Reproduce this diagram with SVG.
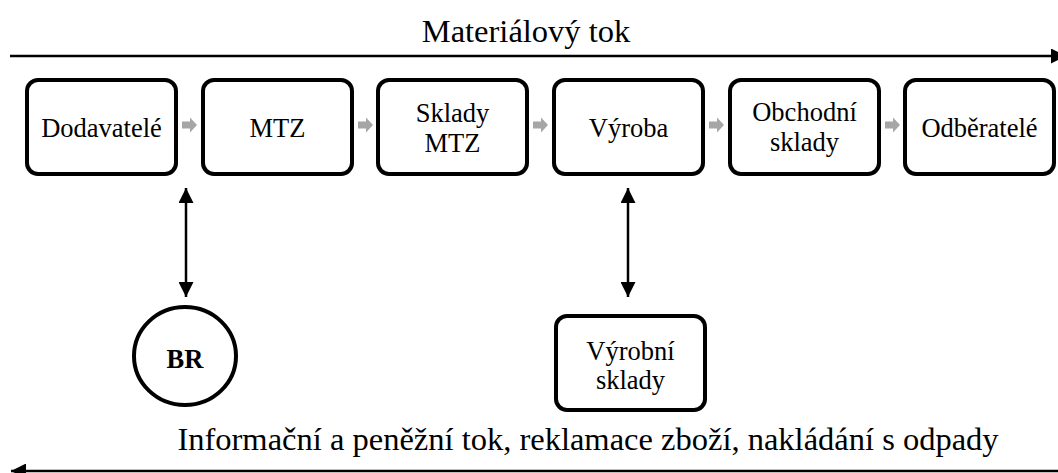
<svg xmlns="http://www.w3.org/2000/svg" width="1058" height="473" viewBox="0 0 1058 473">
  <style>
    .box { fill: #fff; stroke: #000; stroke-width: 4; }
    .lbl { font-family: 'Liberation Serif', 'Tinos', 'DejaVu Serif', serif; font-size: 26.5px; fill: #000; text-anchor: middle; }
    .flow { font-family: 'Liberation Serif', 'Tinos', 'DejaVu Serif', serif; font-size: 32.5px; fill: #000; text-anchor: middle; }
    .line { stroke: #000; stroke-width: 2.5; fill: none; }
    .step { fill: #a6a6a6; }
  </style>
  <defs>
    <marker id="head" viewBox="0 0 10 10" refX="10" refY="5" markerWidth="6" markerHeight="6" markerUnits="strokeWidth" orient="auto-start-reverse">
      <path d="M0,0 L10,5 L0,10 Z" fill="#000"/>
    </marker>
    <path id="step" d="M0,-3.5 H8 V-7.5 L15,0 L8,7.5 V3.5 H0 Z"/>
  </defs>

  <!-- flow labels -->
  <text class="flow" x="526" y="42">Materiálový tok</text>
  <text class="flow" x="588" y="450">Informační a peněžní tok, reklamace zboží, nakládání s odpady</text>

  <g id="connectors">
    <!-- material flow, left to right -->
    <line class="line" x1="10" y1="56" x2="1066" y2="56" marker-end="url(#head)"/>
    <!-- information flow, right to left -->
    <line class="line" x1="1058" y1="471" x2="11" y2="471" marker-end="url(#head)"/>
    <!-- supplier to BR -->
    <line class="line" x1="186" y1="188" x2="186" y2="297" marker-start="url(#head)" marker-end="url(#head)"/>
    <!-- production to production stores -->
    <line class="line" x1="628" y1="188" x2="628" y2="297" marker-start="url(#head)" marker-end="url(#head)"/>
    <!-- grey step arrows between stages -->
    <use href="#step" class="step" x="182" y="125"/>
    <use href="#step" class="step" x="358" y="125"/>
    <use href="#step" class="step" x="533" y="125"/>
    <use href="#step" class="step" x="709" y="125"/>
    <use href="#step" class="step" x="885" y="125"/>
  </g>

  <g id="dodavatele">
    <rect class="box" x="27" y="80" width="149" height="94" rx="11"/>
    <text class="lbl" x="101.5" y="137">Dodavatelé</text>
  </g>
  <g id="mtz">
    <rect class="box" x="203" y="80" width="149" height="94" rx="11"/>
    <text class="lbl" x="277.5" y="137">MTZ</text>
  </g>
  <g id="sklady-mtz">
    <rect class="box" x="378" y="80" width="149" height="94" rx="11"/>
    <text class="lbl" x="452.5" y="122">Sklady</text>
    <text class="lbl" x="452.5" y="152">MTZ</text>
  </g>
  <g id="vyroba">
    <rect class="box" x="554" y="80" width="149" height="94" rx="11"/>
    <text class="lbl" x="628.5" y="137">Výroba</text>
  </g>
  <g id="obchodni-sklady">
    <rect class="box" x="730" y="80" width="149" height="94" rx="11"/>
    <text class="lbl" x="804.5" y="121">Obchodní</text>
    <text class="lbl" x="804.5" y="151">sklady</text>
  </g>
  <g id="odberatele">
    <rect class="box" x="905" y="80" width="149" height="94" rx="11"/>
    <text class="lbl" x="979.5" y="137">Odběratelé</text>
  </g>
  <g id="br">
    <ellipse class="box" cx="185" cy="356" rx="51" ry="49"/>
    <text class="lbl" x="185" y="368" font-weight="bold">BR</text>
  </g>
  <g id="vyrobni-sklady">
    <rect class="box" x="556" y="316" width="149" height="94" rx="11"/>
    <text class="lbl" x="630.5" y="360">Výrobní</text>
    <text class="lbl" x="630.5" y="389">sklady</text>
  </g>
</svg>
